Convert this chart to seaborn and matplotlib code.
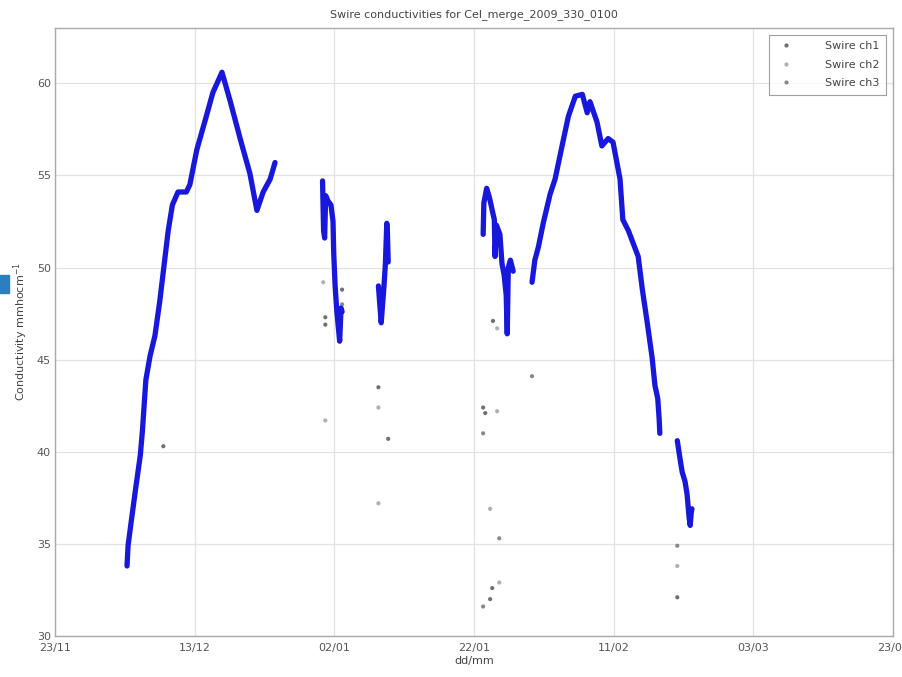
import pandas as pd
import numpy as np
import matplotlib
matplotlib.use("Agg")
import matplotlib.pyplot as plt
import matplotlib.dates as mdates
from matplotlib.patches import Rectangle
from matplotlib.lines import Line2D
import seaborn as sns

sns.set_style("white")
plt.rcParams['font.family'] = ['DejaVu Sans']

start = pd.Timestamp("2009-11-23")

# Main (blue) conductivity trace, days since 23/11 and value, one list per continuous piece
seg1_day = [10.3, 10.45, 10.9, 11.5, 12.2, 12.5, 12.75, 13.0, 13.6, 14.3, 15.0, 15.6, 16.2, 16.8,
            17.6, 18.8, 19.3, 20.3, 21.5, 22.6, 23.9, 25.1, 26.5, 27.9, 28.9, 29.8, 30.8, 31.5]
seg1_val = [33.8, 34.9, 36.2, 37.9, 39.8, 41.1, 42.5, 43.9, 45.2, 46.3, 48.2, 50.1, 52.0, 53.4,
            54.1, 54.1, 54.5, 56.4, 58.0, 59.5, 60.6, 59.0, 57.0, 55.1, 53.1, 54.1, 54.8, 55.7]
seg2_day = [38.3, 38.45, 38.6, 38.75, 39.1, 39.5, 39.8, 39.9, 40.1, 40.35, 40.6, 40.75, 40.95, 41.1]
seg2_val = [54.7, 52.0, 51.6, 53.9, 53.6, 53.4, 52.5, 50.8, 49.0, 47.6, 46.6, 46.0, 47.8, 47.6]
seg3_day = [46.3, 46.5, 46.7, 46.9, 47.1, 47.3, 47.5, 47.6, 47.7]
seg3_val = [49.0, 48.0, 47.0, 48.0, 49.0, 50.2, 52.4, 51.8, 50.3]
seg4_day = [61.3, 61.4, 61.8, 62.2, 62.6, 62.9, 63.0, 63.2, 63.7, 64.0, 64.3, 64.6, 64.75, 64.9, 65.2, 65.6]
seg4_val = [51.8, 53.5, 54.3, 53.8, 53.1, 52.6, 50.6, 52.3, 51.8, 50.2, 49.6, 48.5, 46.4, 50.0, 50.4, 49.8]
seg5_day = [68.3, 68.7, 69.2, 69.9, 70.9, 71.6, 72.6, 73.5, 74.5, 75.5, 76.2, 76.6, 77.6, 78.3,
            79.2, 79.9, 80.9, 81.3, 82.1, 83.5, 84.1, 84.8, 85.5, 85.9, 86.3, 86.5, 86.6]
seg5_val = [49.2, 50.4, 51.1, 52.4, 54.0, 54.8, 56.6, 58.2, 59.3, 59.4, 58.4, 59.0, 57.9, 56.6,
            57.0, 56.8, 54.8, 52.6, 52.0, 50.6, 48.8, 47.0, 45.1, 43.6, 42.9, 41.8, 41.0]
seg6_day = [89.1, 89.5, 89.8, 90.2, 90.5, 90.8, 90.95, 91.1, 91.2]
seg6_val = [40.6, 39.6, 38.9, 38.4, 37.7, 36.4, 36.0, 36.7, 36.9]

# Scattered single readings
ch1_day = [15.5, 38.7, 38.7, 41.1, 46.3, 47.7, 61.3, 61.6, 62.7, 62.3, 62.6, 89.1]
ch1_val = [40.3, 47.3, 46.9, 48.8, 43.5, 40.7, 42.4, 42.1, 47.1, 32.0, 32.6, 32.1]
ch2_day = [38.4, 38.7, 46.3, 46.3, 63.3, 63.3, 62.3, 63.6, 89.1]
ch2_val = [49.2, 41.7, 42.4, 37.2, 46.7, 42.2, 36.9, 32.9, 33.8]
ch3_day = [41.1, 61.3, 68.3, 63.6, 61.3, 89.1]
ch3_val = [48.0, 41.0, 44.1, 35.3, 31.6, 34.9]

segs = [(seg1_day, seg1_val), (seg2_day, seg2_val), (seg3_day, seg3_val),
        (seg4_day, seg4_val), (seg5_day, seg5_val), (seg6_day, seg6_val)]
rows = []
for i, (d, v) in enumerate(segs):
    for dd, vv in zip(d, v):
        rows.append({'seg': i, 'date': start + pd.Timedelta(days=dd), 'value': vv})
line_df = pd.DataFrame(rows)

pts = []
for name, d, v in [('Swire ch1', ch1_day, ch1_val), ('Swire ch2', ch2_day, ch2_val),
                   ('Swire ch3', ch3_day, ch3_val)]:
    for dd, vv in zip(d, v):
        pts.append({'ch': name, 'date': start + pd.Timedelta(days=dd), 'value': vv})
pt_df = pd.DataFrame(pts)

fig = plt.figure(figsize=(9.03, 6.77), dpi=100)
ax = fig.add_axes([0.061, 0.0606, 0.928, 0.898])

sns.lineplot(data=line_df, x='date', y='value', units='seg', estimator=None, sort=False,
             color='#1818dc', lw=3.8, ax=ax, legend=False)
shades = {'Swire ch1': '#707070', 'Swire ch2': '#b0b0b0', 'Swire ch3': '#888888'}
sns.scatterplot(data=pt_df, x='date', y='value', hue='ch', palette=shades, s=9,
                marker='o', edgecolor='none', ax=ax, legend=False)

ax.set_xlim(start, pd.Timestamp("2010-03-23"))
ax.set_ylim(30, 63)
ticks = [start + pd.Timedelta(days=20 * k) for k in range(7)]
ax.set_xticks(ticks)
ax.xaxis.set_major_formatter(mdates.DateFormatter('%d/%m'))
ax.set_yticks([30, 35, 40, 45, 50, 55, 60])

ax.grid(True, color='#e2e2e2', lw=0.9)
ax.tick_params(direction='in', length=4, colors='#555555', labelsize=8, pad=3)
ax.tick_params(axis='x', pad=5)
for s in ax.spines.values():
    s.set_color('#aaaaaa')
    s.set_linewidth(1.0)

ax.set_xlabel('dd/mm', fontsize=8, color='#444444', labelpad=2)
ax.set_ylabel('Conductivity mmhocm$^{-1}$', fontsize=8, color='#444444', labelpad=5)
ax.set_title('Swire conductivities for Cel_merge_2009_330_0100', fontsize=8,
             color='#444444', pad=8)

handles = [Line2D([], [], ls='none', marker='.', ms=4, color=shades[k]) for k in shades]
leg = ax.legend(handles, list(shades.keys()), loc='upper right', fontsize=8,
                frameon=True, fancybox=False, borderaxespad=0.6, handletextpad=2.5,
                labelspacing=0.75, borderpad=0.6)
leg.get_frame().set_edgecolor('#888888')
leg.get_frame().set_linewidth(0.8)
for t in leg.get_texts():
    t.set_color('#444444')

fig.patches.append(Rectangle((0, 1 - 293 / 677), 9 / 903, 18 / 677, transform=fig.transFigure,
                             color='#2a7fc1', zorder=5))

fig.savefig('out.png', dpi=100)
